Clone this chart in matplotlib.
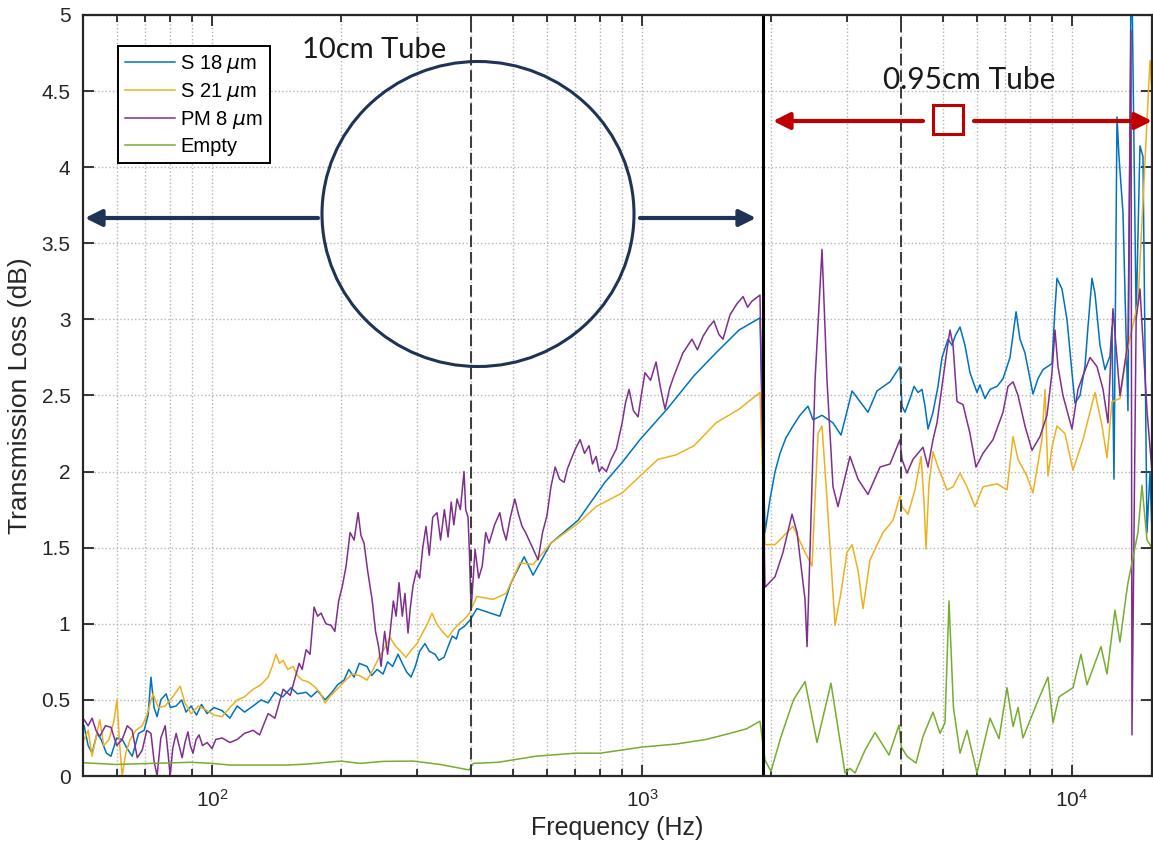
import matplotlib
matplotlib.use('Agg')
import matplotlib.pyplot as plt
from matplotlib.patches import Ellipse, Rectangle, FancyArrowPatch
from matplotlib.ticker import LogLocator, NullLocator, FuncFormatter

plt.rcParams['font.family'] = ['Liberation Sans', 'DejaVu Sans']

# ---- data (frequency in Hz, transmission loss in dB) ----
s18_f = [50.4, 51.5, 52.6, 54, 55.2, 56.8, 58.2, 60, 61.8, 63.5, 65.2, 67.5, 69.5, 71, 72.1,
         73.3, 74.5, 76, 78.2, 80, 82.5, 85, 87, 89.4, 92, 94.5, 97.4, 101, 105.5, 110, 114.4,
         119, 124.6, 130, 135, 140, 146, 152.7, 158, 165.5, 170, 176, 183.2, 190, 196, 202.8,
         208, 214, 220, 229.3, 235, 242, 249.9, 256, 263, 270.8, 277, 284, 290.3, 297, 304,
         312.8, 320, 330, 337, 346.4, 354, 362, 370, 375.3, 385, 397,
         413, 467, 496, 532, 558, 614, 710, 820, 899, 989, 1143, 1321, 1486, 1681, 1881,
         1932, 1985, 2039, 2094, 2160, 2245, 2330, 2432, 2499, 2622, 2781, 2903, 3080, 3214,
         3354, 3520, 3774, 3981,
         4024, 4089, 4201, 4292, 4385, 4479, 4552, 4626, 4751, 4880, 4986, 5149, 5260, 5346,
         5490, 5638, 5792, 6013, 6109, 6277, 6447, 6694, 6911, 7176, 7412, 7570, 7774, 8115,
         8333, 8561, 8984, 9130, 9228, 9478, 9736, 10000, 10162, 10438, 10720, 10894, 11131,
         11311, 11619, 11933, 12257, 12388, 12522, 12726, 12862, 13141, 13497, 13716, 13789,
         14100, 14391, 14625, 14944, 15187, 15349]
s18_db = [0.33, 0.20, 0.15, 0.28, 0.24, 0.15, 0.13, 0.25, 0.24, 0.18, 0.13, 0.28, 0.30, 0.40, 0.65,
          0.45, 0.39, 0.50, 0.54, 0.45, 0.46, 0.50, 0.42, 0.46, 0.40, 0.47, 0.41, 0.45, 0.43, 0.38, 0.46,
          0.42, 0.46, 0.50, 0.48, 0.55, 0.52, 0.58, 0.54, 0.55, 0.52, 0.56, 0.50, 0.55, 0.60, 0.63,
          0.70, 0.65, 0.74, 0.72, 0.66, 0.70, 0.67, 0.75, 0.72, 0.80, 0.74, 0.68, 0.65, 0.72, 0.82,
          0.87, 0.82, 0.80, 0.76, 0.78, 0.85, 0.92, 0.90, 0.96, 0.98, 1.02,
          1.10, 1.05, 1.27, 1.44, 1.32, 1.53, 1.68, 1.93, 2.06, 2.21, 2.41, 2.63, 2.78, 2.93, 3.01,
          1.60, 1.82, 2.00, 2.12, 2.22, 2.30, 2.37, 2.43, 2.34, 2.37, 2.32, 2.24, 2.53, 2.46,
          2.39, 2.53, 2.59, 2.69,
          2.43, 2.39, 2.48, 2.56, 2.52, 2.54, 2.43, 2.28, 2.39, 2.56, 2.75, 2.87, 2.83, 2.89,
          2.95, 2.83, 2.65, 2.52, 2.57, 2.48, 2.54, 2.56, 2.61, 2.75, 3.05, 2.87, 2.78, 2.51,
          2.61, 2.67, 2.71, 3.07, 3.27, 3.20, 3.00, 2.65, 2.45, 2.50, 2.69, 2.95, 3.27,
          3.17, 2.83, 2.67, 2.76, 2.95, 1.95, 4.33, 4.07, 3.70, 2.40, 5.20, 5.20,
          3.00, 4.14, 4.07, 1.60, 2.00, 1.60]

s21_f = [50.4, 51.5, 52.6, 53.7, 54.8, 56, 57.6, 59, 60.1, 61, 61.8, 63, 64.5, 66.5, 68.8,
         70.5, 72.9, 75, 77.8, 81, 84.3, 86.5, 89.4, 93, 97.4, 101, 105.5, 110, 114.4, 119,
         124.6, 130, 135, 138, 140.9, 143.5, 146.3, 150, 154.3, 158, 162, 167, 172.7, 178,
         183.2, 189, 195.3, 203, 211.7, 220, 229.3, 237, 244.6, 252, 259.4, 266, 274, 282.6,
         291, 299.7, 310, 317, 324.7, 333, 343, 353.9, 364, 375.3, 386, 397,
         413, 450, 483, 520, 558, 614, 710, 782, 899, 989, 1089, 1200, 1321, 1486, 1681, 1881,
         1932, 2039, 2245, 2394, 2485, 2567, 2622, 2693, 2811, 2900, 2998, 3080, 3180, 3266,
         3390, 3635, 3835, 3981,
         4024, 4155, 4313, 4456, 4528, 4576, 4650, 4751, 4880, 5120, 5289, 5490, 5700, 5949,
         6209, 6694, 7062, 7294, 7491, 7858, 8115, 8515, 8653, 8794, 8984, 9228, 9632, 10054,
         10607, 11311, 11748, 12062, 12388, 12931, 13426, 14238, 15187, 15349]
s21_db = [0.24, 0.30, 0.13, 0.25, 0.37, 0.20, 0.24, 0.35, 0.50, 0.20, 0.00, 0.15, 0.24, 0.30, 0.33,
          0.40, 0.54, 0.45, 0.46, 0.52, 0.59, 0.48, 0.41, 0.46, 0.43, 0.40, 0.39, 0.45, 0.50, 0.52,
          0.57, 0.60, 0.65, 0.72, 0.80, 0.74, 0.76, 0.70, 0.72, 0.66, 0.63, 0.62, 0.59, 0.55,
          0.48, 0.53, 0.57, 0.62, 0.67, 0.66, 0.63, 0.70, 0.78, 0.84, 0.91, 0.86, 0.82, 0.78,
          0.83, 0.87, 0.95, 1.00, 1.07, 1.00, 0.95, 0.91, 0.96, 1.00, 1.03, 1.07,
          1.18, 1.16, 1.20, 1.40, 1.39, 1.53, 1.66, 1.77, 1.86, 1.97, 2.08, 2.11, 2.17, 2.32, 2.41, 2.52,
          1.52, 1.52, 1.64, 1.47, 1.38, 2.25, 2.30, 1.82, 0.99, 1.20, 1.47, 1.52, 1.35, 1.10,
          1.42, 1.60, 1.68, 1.84,
          1.77, 1.72, 1.88, 2.10, 1.80, 1.49, 1.92, 2.13, 2.03, 1.88, 1.90, 1.99, 1.90, 1.77,
          1.90, 1.92, 1.88, 2.23, 2.08, 1.97, 1.86, 2.21, 2.54, 1.97, 2.16, 2.30, 2.25, 2.01,
          2.21, 2.52, 2.30, 2.09, 2.46, 2.48, 2.79, 3.11, 4.70, 4.50]

pm8_f = [50.4, 51.5, 52.6, 53.7, 54.8, 56.5, 58.2, 60, 61.8, 63.5, 65.2, 67, 68.8, 70.5, 72.1,
         73.3, 74.5, 76, 77.8, 79, 79.9, 81, 82.5, 83.8, 85.2, 86.5, 87.9, 89, 90.3, 91.8, 93.3,
         95, 97.4, 100, 102, 105.5, 110, 114.4, 119, 124.6, 129, 135, 140, 146.3, 152, 159.4,
         162, 165.5, 169, 172.7, 176, 179.3, 184, 189.1, 193, 197, 201, 205, 209.4, 214, 218.6,
         222, 225.7, 230, 235.6, 240, 244, 247.2, 252, 256, 259.4, 264, 268, 272.2, 277, 281,
         285.6, 289, 293.4, 299, 304, 309, 314.5, 320, 326, 333.6, 340, 347, 353.9, 360, 365,
         371.3, 378, 385.5, 389, 393.9, 397, 400.4,
         409, 417, 425, 433, 441, 454, 467, 475, 483, 494, 506, 516, 526, 536, 546, 560, 573,
         587, 601, 614, 628, 643, 659, 671, 684, 700, 718, 735, 753, 767, 782, 795, 807, 826,
         847, 872, 899, 915, 933, 955, 979, 996, 1016, 1047, 1078, 1104, 1131, 1160, 1187, 1245,
         1307, 1345, 1387, 1430, 1470, 1510, 1543, 1602, 1660, 1718, 1760, 1802, 1881,
         1932, 2039, 2128, 2233, 2294, 2394, 2420, 2460, 2526, 2622, 2693, 2781, 2856, 3046,
         3180, 3354, 3577, 3774, 3981,
         4024, 4133, 4267, 4385, 4503, 4626, 4751, 4853, 4986, 5120, 5204, 5289, 5403, 5579,
         5792, 5980, 6209, 6552, 6911, 7100, 7294, 7491, 7774, 8072, 8424, 8747, 8984, 9130,
         9278, 9528, 10000, 10327, 10607, 11013, 11432, 11810, 12126, 12454, 12931, 13497,
         13716, 13789, 14100, 14391, 14944, 15349]
pm8_db = [0.37, 0.33, 0.38, 0.30, 0.26, 0.33, 0.32, 0.20, 0.24, 0.33, 0.30, 0.12, 0.17, 0.30, 0.28,
          0.10, 0.00, 0.25, 0.33, 0.15, 0.00, 0.18, 0.28, 0.20, 0.12, 0.22, 0.29, 0.20, 0.15, 0.24, 0.27,
          0.20, 0.22, 0.18, 0.24, 0.25, 0.22, 0.24, 0.28, 0.30, 0.27, 0.41, 0.38, 0.57, 0.53, 0.74,
          0.70, 0.83, 0.80, 1.11, 1.05, 1.07, 1.00, 0.99, 0.95, 1.15, 1.25, 1.38, 1.60, 1.55, 1.73,
          1.58, 1.53, 1.35, 1.16, 0.95, 0.85, 0.72, 0.95, 0.80, 0.94, 1.15, 1.05, 1.27, 1.05, 1.20,
          0.94, 1.10, 1.25, 1.35, 1.30, 1.50, 1.64, 1.45, 1.70, 1.73, 1.55, 1.75, 1.57, 1.80, 1.65,
          1.82, 1.75, 2.00, 1.75, 1.70, 1.45, 1.09,
          1.49, 1.30, 1.38, 1.60, 1.53, 1.65, 1.73, 1.62, 1.55, 1.70, 1.82, 1.72, 1.64, 1.60, 1.55,
          1.48, 1.42, 1.60, 1.71, 1.90, 2.03, 1.95, 1.93, 2.02, 2.08, 2.15, 2.21, 2.12, 2.17, 2.05,
          2.10, 2.00, 2.03, 2.00, 2.08, 2.15, 2.32, 2.45, 2.54, 2.40, 2.36, 2.50, 2.65, 2.60, 2.72,
          2.55, 2.41, 2.55, 2.63, 2.78, 2.87, 2.80, 2.89, 2.95, 2.99, 2.90, 2.87, 3.03, 3.10, 3.15,
          3.08, 3.12, 3.16,
          1.24, 1.31, 1.47, 1.72, 1.60, 1.16, 0.85, 1.50, 2.60, 3.46, 2.60, 1.90, 1.77, 2.10,
          1.95, 1.85, 2.03, 2.05, 2.21,
          2.08, 1.99, 2.08, 2.12, 2.16, 2.03, 2.21, 2.32, 2.56, 2.80, 2.93, 2.83, 2.46, 2.44,
          2.25, 2.03, 2.12, 2.21, 2.39, 2.56, 2.59, 2.50, 2.30, 2.14, 2.23, 2.37, 2.65, 2.93,
          2.69, 2.50, 2.28, 2.54, 2.63, 2.75, 2.69, 2.54, 2.32, 3.07, 2.50, 2.85,
          4.90, 0.27, 3.00, 3.20, 2.40, 2.00]

empty_f = [50.4, 59.5, 72.9, 89.4, 100, 110.1, 149.4, 165.5, 199.5, 220.9, 249.9, 293.4, 339, 396,
           405, 462, 567, 700, 800, 1000, 1200, 1409, 1600, 1750, 1881,
           1932, 1995, 2100, 2250, 2394, 2553, 2751, 2966, 3046, 3129, 3301, 3483, 3754, 3961,
           4010, 4133, 4337, 4503, 4751, 4932, 5066, 5176, 5300, 5490, 5700, 6013, 6447, 6765,
           7062, 7294, 7491, 7691, 8291, 8794, 9032, 9329, 10054, 10494, 10837, 11681, 12062,
           12589, 12931, 13355, 13497, 14238, 14547, 14944, 15349]
empty_db = [0.087, 0.076, 0.083, 0.09, 0.083, 0.072, 0.072, 0.078, 0.098, 0.083, 0.096, 0.098, 0.076, 0.04,
            0.083, 0.09, 0.13, 0.15, 0.15, 0.19, 0.21, 0.24, 0.28, 0.31, 0.36,
            0.105, 0.03, 0.25, 0.50, 0.62, 0.22, 0.61, 0.02, 0.05, 0.02, 0.17, 0.285, 0.138, 0.335,
            0.19, 0.13, 0.085, 0.26, 0.42, 0.28, 0.35, 1.15, 0.45, 0.15, 0.30, 0.02, 0.38, 0.245,
            0.58, 0.325, 0.45, 0.25, 0.48, 0.65, 0.35, 0.52, 0.58, 0.80, 0.60, 0.85, 0.67,
            1.09, 0.88, 1.18, 1.27, 1.60, 1.91, 1.55, 1.50]

labels = ['S 18 $\\mu$m', 'S 21 $\\mu$m', 'PM 8 $\\mu$m', 'Empty']
colors = ['#0072BD', '#EDB120', '#7E2F8E', '#77AC30']
split_lines = [400, 4000]
tube_edge = 1911

W, H = 1153, 851
def fx(px):
    return px / W
def fy(py):
    return 1 - py / H

fig = plt.figure(figsize=(W / 100, H / 100), dpi=100)
ax = fig.add_axes([fx(83), fy(776), (1152 - 83) / W, (776 - 15) / H])

series = [(s18_f, s18_db), (s21_f, s21_db), (pm8_f, pm8_db), (empty_f, empty_db)]
for (f, db), lab, c in zip(series, labels, colors):
    ax.plot(f, db, color=c, lw=1.1, label=lab)

for xv in split_lines:
    ax.axvline(xv, color='#3a3a3a', lw=1.4, ls=(0, (6, 2.5)))
ax.axvline(tube_edge, color='black', lw=2.2)

ax.set_xscale('log')
ax.set_xlim(50.1, 15350)
ax.set_ylim(0, 5)
ax.set_yticks([0, 0.5, 1, 1.5, 2, 2.5, 3, 3.5, 4, 4.5, 5])
ax.yaxis.set_major_formatter(FuncFormatter(lambda v, p: f'{v:g}'))
ax.yaxis.set_minor_locator(NullLocator())
ax.xaxis.set_minor_locator(LogLocator(base=10, subs=range(2, 10), numticks=20))

ax.set_axisbelow(True)
ax.grid(which='major', ls=':', lw=1.0, color='#b5b5b5')
ax.grid(which='minor', axis='x', ls=':', lw=1.0, color='#b5b5b5')

ax.tick_params(which='both', direction='in', top=True, right=True, colors='#262626', width=1.3)
ax.tick_params(which='major', length=8, labelsize=15, pad=9)
ax.tick_params(which='minor', length=5)
for sp in ax.spines.values():
    sp.set_color('#262626')
    sp.set_linewidth(1.6)

ax.set_xlabel('Frequency (Hz)', fontsize=18, color='#262626', labelpad=4)
ax.set_ylabel('Transmission Loss (dB)', fontsize=19, color='#262626', labelpad=7)

leg = ax.legend(loc='upper left', bbox_to_anchor=((118 - 83) / 1069, (776 - 46) / 761),
                borderaxespad=0, fontsize=14.5, handlelength=2.5, handletextpad=0.25,
                labelspacing=0.3, borderpad=0.35, fancybox=False, framealpha=1)
leg.get_frame().set_edgecolor('black')
leg.get_frame().set_linewidth(1.4)

# ---- annotations on top of the figure ----
navy = '#1F3354'
red = '#C00000'
fig.add_artist(Ellipse((fx(478), fy(214)), 312 / W, 305 / H, transform=fig.transFigure,
                       fill=False, edgecolor=navy, lw=2.2))
for tail, tip in [(318, 85), (640, 756)]:
    fig.add_artist(FancyArrowPatch((fx(tail), fy(218)), (fx(tip), fy(218)), transform=fig.transFigure,
                                   arrowstyle='-|>', mutation_scale=25, lw=3, color=navy,
                                   shrinkA=0, shrinkB=0))
for tail, tip in [(923, 773), (974, 1152)]:
    fig.add_artist(FancyArrowPatch((fx(tail), fy(121)), (fx(tip), fy(121)), transform=fig.transFigure,
                                   arrowstyle='-|>', mutation_scale=25, lw=3, color=red,
                                   shrinkA=0, shrinkB=0))
fig.add_artist(Rectangle((fx(933), fy(134)), 30 / W, 29 / H, transform=fig.transFigure,
                         fill=False, edgecolor=red, lw=2.2))

fig.text(fx(374), fy(50), '10cm Tube', family='Lato', fontsize=21, color='#1a1a1a',
         ha='center', va='center')
fig.text(fx(969), fy(80), '0.95cm Tube', family='Lato', fontsize=21.5, color='#1a1a1a',
         ha='center', va='center')

fig.savefig('out.png', dpi=100)
